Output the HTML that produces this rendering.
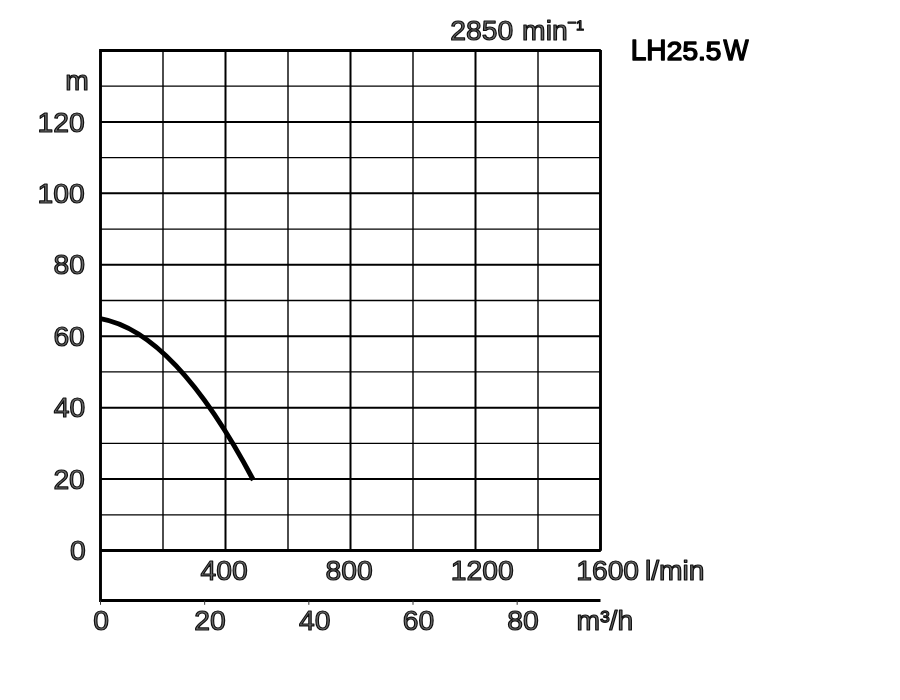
<!DOCTYPE html>
<html><head><meta charset="utf-8"><title>LH25.5W</title>
<style>
html,body{margin:0;padding:0;background:#fff;}
body{width:900px;height:700px;overflow:hidden;}
svg{display:block;}
.t text{font-family:"Liberation Sans",Arial,Helvetica,sans-serif;font-size:28px;fill:#6c6c6c;stroke:#101010;stroke-width:1.2px;stroke-linejoin:round;}
.b{font-family:"Liberation Sans",Arial,Helvetica,sans-serif;font-size:28px;fill:#000;stroke:#000;stroke-width:1.5px;stroke-linejoin:round;}
</style></head><body>
<svg width="900" height="700" viewBox="0 0 900 700">
<rect width="900" height="700" fill="#fff"/>
<g id="lines" stroke="#000" fill="none">
<line x1="100.5" y1="514.79" x2="600.5" y2="514.79" stroke-width="1.3"/>
<line x1="100.5" y1="479.07" x2="600.5" y2="479.07" stroke-width="2"/>
<line x1="100.5" y1="443.36" x2="600.5" y2="443.36" stroke-width="1.3"/>
<line x1="100.5" y1="407.64" x2="600.5" y2="407.64" stroke-width="2"/>
<line x1="100.5" y1="371.93" x2="600.5" y2="371.93" stroke-width="1.3"/>
<line x1="100.5" y1="336.21" x2="600.5" y2="336.21" stroke-width="2"/>
<line x1="100.5" y1="300.50" x2="600.5" y2="300.50" stroke-width="1.3"/>
<line x1="100.5" y1="264.79" x2="600.5" y2="264.79" stroke-width="2"/>
<line x1="100.5" y1="229.07" x2="600.5" y2="229.07" stroke-width="1.3"/>
<line x1="100.5" y1="193.36" x2="600.5" y2="193.36" stroke-width="2"/>
<line x1="100.5" y1="157.64" x2="600.5" y2="157.64" stroke-width="1.3"/>
<line x1="100.5" y1="121.93" x2="600.5" y2="121.93" stroke-width="2"/>
<line x1="100.5" y1="86.21" x2="600.5" y2="86.21" stroke-width="1.3"/>
<line x1="163.00" y1="50.5" x2="163.00" y2="550.5" stroke-width="1.4"/>
<line x1="225.50" y1="50.5" x2="225.50" y2="550.5" stroke-width="2"/>
<line x1="288.00" y1="50.5" x2="288.00" y2="550.5" stroke-width="1.4"/>
<line x1="350.50" y1="50.5" x2="350.50" y2="550.5" stroke-width="2"/>
<line x1="413.00" y1="50.5" x2="413.00" y2="550.5" stroke-width="1.4"/>
<line x1="475.50" y1="50.5" x2="475.50" y2="550.5" stroke-width="2"/>
<line x1="538.00" y1="50.5" x2="538.00" y2="550.5" stroke-width="1.4"/>
<line x1="99.1" y1="50.5" x2="600.8" y2="50.5" stroke-width="2.9"/>
<line x1="600.5" y1="50.1" x2="600.5" y2="550.8" stroke-width="2.9"/>
<line x1="100.5" y1="50.5" x2="100.5" y2="601.9" stroke-width="2.9"/>
<line x1="100.5" y1="550.5" x2="600.8" y2="550.5" stroke-width="2.9"/>
<line x1="100.5" y1="600.5" x2="600.5" y2="600.5" stroke-width="2.9"/>
<line x1="100.50" y1="600.5" x2="100.50" y2="604.8" stroke-width="1" stroke="#333"/>
<line x1="204.67" y1="600.5" x2="204.67" y2="604.8" stroke-width="1" stroke="#333"/>
<line x1="308.83" y1="600.5" x2="308.83" y2="604.8" stroke-width="1" stroke="#333"/>
<line x1="413.00" y1="600.5" x2="413.00" y2="604.8" stroke-width="1" stroke="#333"/>
<line x1="517.17" y1="600.5" x2="517.17" y2="604.8" stroke-width="1" stroke="#333"/>
<path d="M100.50,318.62 C151.43,327.75 202.37,383.75 253.30,479.99" stroke-width="5"/>
</g>
<g class="t">
<text id="h1" transform="scale(1.01 1)" x="445.92" y="40.12">2850</text>
<text id="h1b" transform="scale(1.01 1)" x="516.94" y="40.00">min</text>
<text id="h2" transform="scale(1.01 1)" x="561.35" y="27.75" style="font-size:16px;stroke-width:0.9px">−</text>
<text id="h3" transform="scale(1.01 1)" x="570.54" y="36.30" style="font-size:22.7px">¹</text>
<text id="ym" transform="scale(1.01 1)" x="64.73" y="90.50">m</text>
<text id="y120" transform="scale(1.01 1)" x="37.20" y="131.75">120</text>
<text id="y100" transform="scale(1.01 1)" x="37.15" y="203.25">100</text>
<text id="y80" transform="scale(1.01 1)" x="53.01" y="274.21">80</text>
<text id="y60" transform="scale(1.01 1)" x="52.88" y="345.91">60</text>
<text id="y40" transform="scale(1.01 1)" x="53.34" y="417.31">40</text>
<text id="y20" transform="scale(1.01 1)" x="52.88" y="488.71">20</text>
<text id="y0" transform="scale(1.01 1)" x="69.43" y="560.08">0</text>
<text id="x400" transform="scale(1.01 1)" x="198.50" y="580.17">400</text>
<text id="x800" transform="scale(1.01 1)" x="322.34" y="580.08">800</text>
<text id="x1200" transform="scale(1.01 1)" x="446.32" y="580.25">1200</text>
<text id="x1600" transform="scale(1.01 1)" x="570.51" y="580.25">1600</text>
<text id="xu" transform="scale(1.01 1)" x="638.51" y="579.65">l/min</text>
<text id="q0" transform="scale(1.01 1)" x="92.42" y="630.25">0</text>
<text id="q20" transform="scale(1.01 1)" x="192.42" y="630.17">20</text>
<text id="q40" transform="scale(1.01 1)" x="295.98" y="630.25">40</text>
<text id="q60" transform="scale(1.01 1)" x="398.89" y="630.25">60</text>
<text id="q80" transform="scale(1.01 1)" x="502.22" y="630.08">80</text>
<text id="qu" transform="scale(1.01 1)" x="570.89" y="630.05">m³/h</text>
</g>
<text id="lh" class="b" style="font-size:29.7px" transform="scale(0.943 1)" x="668.76" y="60.25">LH</text>
<text id="lh2" class="b" style="font-size:25.95px" transform="scale(1.08 1)" x="617.41" y="59.99">25.5</text>
<text id="lh3" class="b" style="font-size:29.7px" transform="scale(0.892 1)" x="811.08" y="60.25">W</text>
</svg>
</body></html>
